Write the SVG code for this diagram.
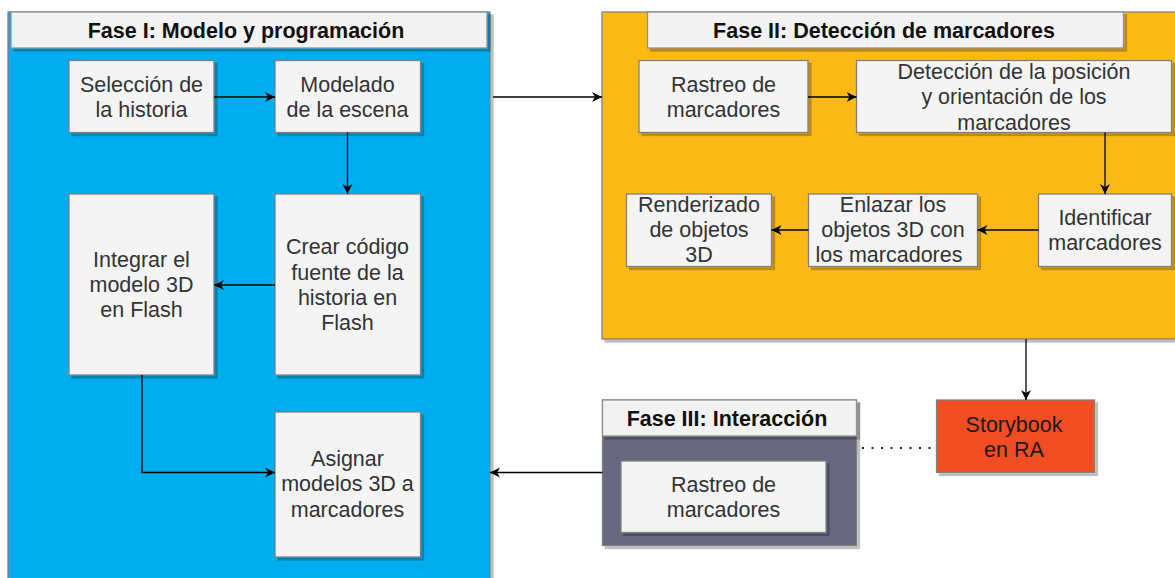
<svg xmlns="http://www.w3.org/2000/svg" width="1175" height="578" viewBox="0 0 1175 578">
<defs>
<filter id="sh" x="-5%" y="-5%" width="115%" height="115%">
<feDropShadow dx="3" dy="3" stdDeviation="0.6" flood-color="#000" flood-opacity="0.25"/>
</filter>
<marker id="arr" markerUnits="userSpaceOnUse" markerWidth="11" markerHeight="11" refX="10" refY="5" orient="auto">
<path d="M0,0 L10,5 L0,10 L3,5 Z" fill="#000"/>
</marker>
<style>
.cont{stroke:#808080;stroke-width:1.3;filter:url(#sh)}
.box{fill:#f4f4f4;stroke:#808080;stroke-width:1.3;filter:url(#sh)}
.hdr{fill:#f2f2f2;stroke:#909090;stroke-width:1.3;filter:url(#sh)}
.t{font-family:"Liberation Sans",Arial,sans-serif;font-size:21.5px;fill:#333;text-anchor:middle}
.h{font-family:"Liberation Sans",Arial,sans-serif;font-size:21.5px;font-weight:bold;fill:#111;text-anchor:middle}
.c{fill:none;stroke:#000;stroke-width:1.3}
</style>
</defs>

<g id="fase1">
<rect class="cont" x="8" y="12" width="482" height="600" fill="#00AEEF"/>
<rect class="hdr" x="11" y="12" width="476" height="36"/>
<text class="h" x="246" y="37.5">Fase I: Modelo y programación</text>
</g>

<g id="fase2">
<rect class="cont" x="602" y="12" width="600" height="327" fill="#FBB917"/>
<rect class="hdr" x="647.5" y="12" width="476" height="36"/>
<text class="h" x="884" y="37.5">Fase II: Detección de marcadores</text>
</g>

<g id="fase3">
<rect class="cont" x="602.5" y="400" width="254" height="145.5" fill="#676780"/>
<rect class="hdr" x="602.5" y="400" width="254" height="36"/>
<text class="h" x="727" y="425.5">Fase III: Interacción</text>
</g>

<g id="seleccion">
<rect class="box" x="69" y="60.5" width="145" height="72"/>
<text class="t"><tspan x="141.5" y="91.5">Selección de</tspan><tspan x="141.5" y="116.5">la historia</tspan></text>
</g>
<g id="modelado">
<rect class="box" x="275" y="60.5" width="145.5" height="72"/>
<text class="t"><tspan x="347.5" y="91.5">Modelado</tspan><tspan x="347.5" y="116.5">de la escena</tspan></text>
</g>
<g id="crear">
<rect class="box" x="275" y="194" width="145.5" height="181"/>
<text class="t"><tspan x="347.5" y="254">Crear código</tspan><tspan x="347.5" y="279.5">fuente de la</tspan><tspan x="347.5" y="305">historia en</tspan><tspan x="347.5" y="330">Flash</tspan></text>
</g>
<g id="integrar">
<rect class="box" x="69" y="194" width="145" height="181"/>
<text class="t"><tspan x="141.5" y="266.5">Integrar el</tspan><tspan x="141.5" y="291.5">modelo 3D</tspan><tspan x="141.5" y="316.5">en Flash</tspan></text>
</g>
<g id="asignar">
<rect class="box" x="275" y="412" width="145.5" height="145"/>
<text class="t"><tspan x="347.5" y="466">Asignar</tspan><tspan x="347.5" y="491">modelos 3D a</tspan><tspan x="347.5" y="516.5">marcadores</tspan></text>
</g>

<g id="rastreo1">
<rect class="box" x="639" y="60.5" width="169" height="72"/>
<text class="t"><tspan x="723.5" y="91.5">Rastreo de</tspan><tspan x="723.5" y="116.5">marcadores</tspan></text>
</g>
<g id="deteccion">
<rect class="box" x="856.5" y="60.5" width="315" height="72"/>
<text class="t"><tspan x="1014" y="78.5">Detección de la posición</tspan><tspan x="1014" y="104">y orientación de los</tspan><tspan x="1014" y="129.5">marcadores</tspan></text>
</g>
<g id="identificar">
<rect class="box" x="1038.5" y="194" width="133" height="72.5"/>
<text class="t"><tspan x="1105" y="224.8">Identificar</tspan><tspan x="1105" y="249.8">marcadores</tspan></text>
</g>
<g id="enlazar">
<rect class="box" x="808.5" y="194" width="169" height="72.5"/>
<text class="t"><tspan x="893" y="211.5">Enlazar los</tspan><tspan x="893" y="237">objetos 3D con</tspan><tspan x="889" y="262">los marcadores</tspan></text>
</g>
<g id="renderizado">
<rect class="box" x="626.5" y="194" width="145" height="72.5"/>
<text class="t"><tspan x="699" y="211.5">Renderizado</tspan><tspan x="699" y="237">de objetos</tspan><tspan x="699" y="262">3D</tspan></text>
</g>

<g id="storybook">
<rect x="936.5" y="400" width="158" height="72.5" fill="#F04E23" stroke="#808080" stroke-width="1.3" filter="url(#sh)"/>
<text class="t" style="fill:#1a1a1a"><tspan x="1014" y="431.5">Storybook</tspan><tspan x="1014" y="456.5">en RA</tspan></text>
</g>

<g id="rastreo3">
<rect class="box" x="621" y="461" width="205" height="71.5"/>
<text class="t"><tspan x="723.5" y="491.5">Rastreo de</tspan><tspan x="723.5" y="516.5">marcadores</tspan></text>
</g>

<g id="connectors">
<path class="c" d="M214,97 L275,97" marker-end="url(#arr)"/>
<path class="c" d="M347.5,132.5 L347.5,194" marker-end="url(#arr)"/>
<path class="c" d="M275,285 L214,285" marker-end="url(#arr)"/>
<path class="c" d="M142,375 L142,472.5 L275,472.5" marker-end="url(#arr)"/>
<path class="c" d="M493,97 L602,97" marker-end="url(#arr)"/>
<path class="c" d="M808,97 L856.5,97" marker-end="url(#arr)"/>
<path class="c" d="M1105,132.5 L1105,194" marker-end="url(#arr)"/>
<path class="c" d="M1038.5,230 L977.5,230" marker-end="url(#arr)"/>
<path class="c" d="M808.5,230 L771.5,230" marker-end="url(#arr)"/>
<path class="c" d="M1026,339 L1026,400" marker-end="url(#arr)"/>
<path class="c" d="M602.5,472.5 L490,472.5" marker-end="url(#arr)"/>
<path d="M862,448 L934,448" fill="none" stroke="#222" stroke-width="2.2" stroke-dasharray="2 7.5"/>
</g>
</svg>
